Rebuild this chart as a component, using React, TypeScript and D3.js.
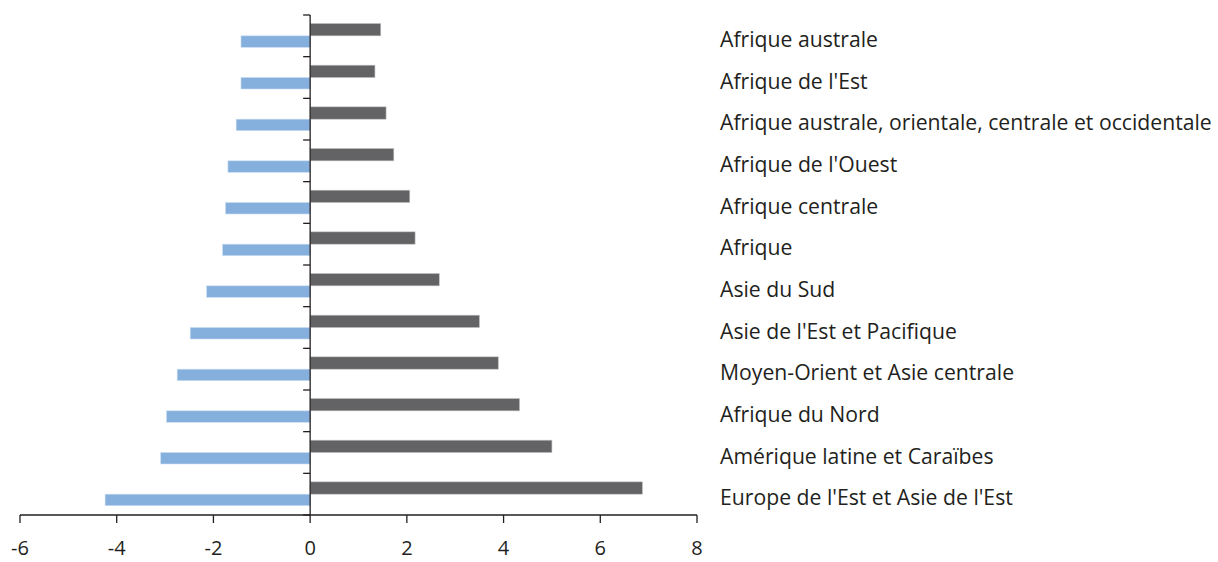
import React from "react";
import * as d3 from "d3";

const categories = [
  "Afrique australe",
  "Afrique de l'Est",
  "Afrique australe, orientale, centrale et occidentale",
  "Afrique de l'Ouest",
  "Afrique centrale",
  "Afrique",
  "Asie du Sud",
  "Asie de l'Est et Pacifique",
  "Moyen-Orient et Asie centrale",
  "Afrique du Nord",
  "Amérique latine et Caraïbes",
  "Europe de l'Est et Asie de l'Est",
];
const greySeries = [1.46, 1.34, 1.57, 1.73, 2.06, 2.17, 2.67, 3.5, 3.89, 4.33, 5.0, 6.87];
const blueSeries = [-1.43, -1.43, -1.53, -1.7, -1.75, -1.81, -2.14, -2.48, -2.75, -2.97, -3.09, -4.24];
const xTicks = [-6, -4, -2, 0, 2, 4, 6, 8];

const W = 1218;
const H = 562;
const FONT = "'Open Sans', 'Noto Sans', sans-serif";

export default function App() {
  const x = d3.scaleLinear().domain([-6, 8]).range([20, 697]);
  const y = d3.scaleBand<string>().domain(categories).range([15, 515]).paddingInner(0).paddingOuter(0);
  const bw = y.bandwidth();
  const barH = 12.3;
  const x0 = x(0);
  const grey = "#636365";
  const blue = "#85B0DE";
  const axisColor = "#231f20";
  const bandEdges = categories.map((c) => y(c) as number).concat([515]);

  return (
    <svg width={W} height={H} style={{ position: "absolute", left: 0, top: 0, background: "#fff" }}>
      {categories.map((c, i) => {
        const yc = (y(c) as number) + bw / 2;
        return (
          <g key={c}>
            <rect
              x={x0}
              y={yc - barH}
              width={x(greySeries[i]) - x0}
              height={barH}
              fill={grey}
              stroke="#bdbdbd"
              strokeWidth={0.6}
            />
            <rect
              x={x(blueSeries[i])}
              y={yc}
              width={x0 - x(blueSeries[i])}
              height={barH - 0.8}
              fill={blue}
              stroke="#c9dcf0"
              strokeWidth={0.6}
            />
            <text x={720} y={yc + 5.5} dominantBaseline="middle" fontFamily={FONT} fontSize={21.2} fill="#231f20">
              {c}
            </text>
          </g>
        );
      })}
      {/* vertical axis */}
      <line x1={x0} x2={x0} y1={15} y2={515} stroke={axisColor} strokeWidth={1.3} />
      {bandEdges.map((v, i) => (
        <line key={i} x1={x0 - 7} x2={x0} y1={v} y2={v} stroke={axisColor} strokeWidth={1.3} />
      ))}
      {/* horizontal axis */}
      <line x1={x(-6)} x2={x(8)} y1={515} y2={515} stroke={axisColor} strokeWidth={1.3} />
      {xTicks.map((t) => (
        <g key={t}>
          <line x1={x(t)} x2={x(t)} y1={515} y2={523} stroke={axisColor} strokeWidth={1.3} />
          <text x={x(t)} y={555} textAnchor="middle" fontFamily={FONT} fontSize={20} fill="#231f20">
            {String(t)}
          </text>
        </g>
      ))}
    </svg>
  );
}
